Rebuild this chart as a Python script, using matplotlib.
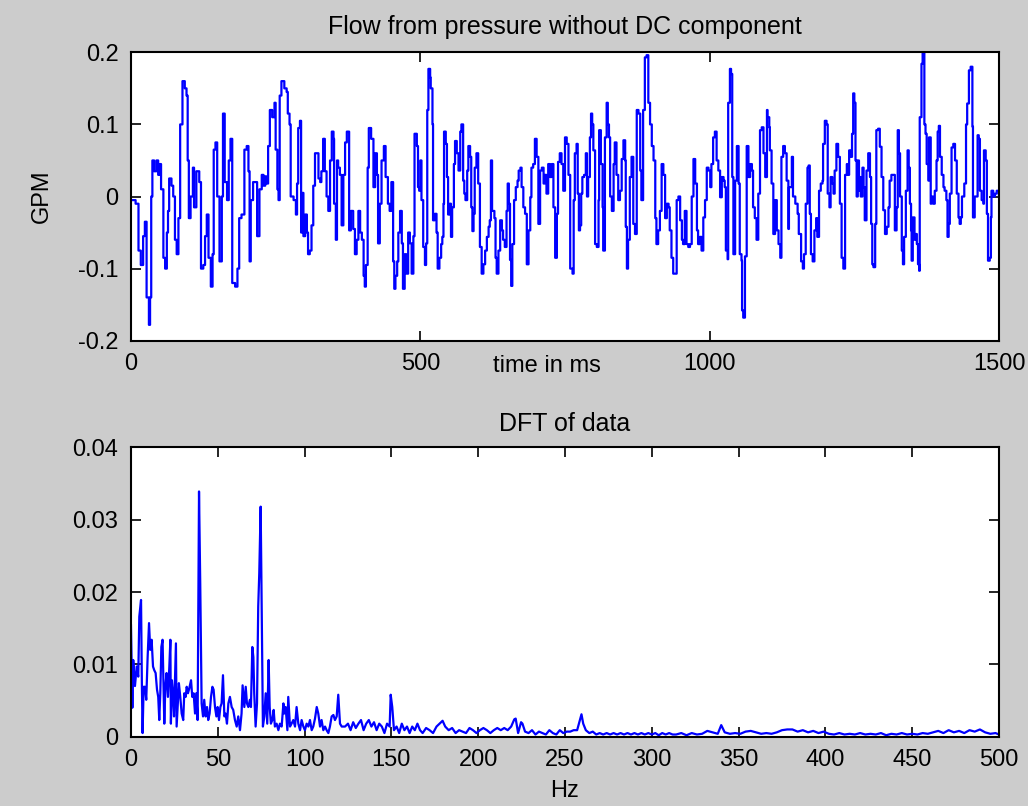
import matplotlib
matplotlib.use("Agg")
import matplotlib.pyplot as plt

# flow signal (ms, GPM)
t_ms = [0, 8, 13, 17, 21, 24, 27, 31, 33, 35,
        37, 40, 44, 47, 50, 52, 56, 59, 62, 64,
        66, 70, 73, 76, 79, 82, 85, 89, 93, 96,
        98, 100, 103, 107, 109, 113, 118, 121, 125, 128,
        131, 134, 138, 141, 143, 146, 149, 153, 157, 159,
        162, 166, 169, 172, 175, 180, 184, 187, 191, 196,
        200, 203, 205, 207, 211, 218, 222, 226, 229, 232,
        234, 237, 240, 244, 248, 250, 253, 255, 257, 260,
        265, 269, 271, 274, 276, 281, 285, 287, 289, 292,
        294, 296, 298, 301, 304, 306, 309, 312, 315, 318,
        321, 324, 327, 329, 332, 335, 338, 341, 344, 347,
        350, 351, 354, 356, 358, 361, 364, 367, 370, 373,
        377, 380, 384, 387, 390, 393, 396, 399, 402, 404,
        406, 409, 411, 415, 419, 422, 425, 427, 430, 433,
        437, 440, 444, 447, 450, 453, 455, 457, 460, 462,
        465, 468, 470, 473, 476, 479, 482, 485, 488, 490,
        494, 496, 498, 500, 502, 505, 508, 510, 512, 514,
        517, 518, 521, 522, 525, 528, 530, 533, 536, 538,
        540, 541, 544, 546, 548, 551, 553, 555, 558, 560,
        563, 566, 569, 571, 574, 576, 578, 581, 583, 586,
        588, 590, 592, 594, 597, 600, 603, 606, 609, 612,
        615, 618, 620, 622, 624, 628, 630, 632, 635, 638,
        641, 643, 646, 649, 651, 653, 655, 657, 659, 662,
        665, 668, 670, 673, 675, 678, 681, 684, 687, 690,
        692, 695, 698, 701, 704, 707, 710, 713, 715, 718,
        721, 724, 727, 730, 733, 736, 738, 741, 744, 747,
        750, 753, 756,
        759, 763, 765, 767, 770, 772, 774, 776, 778, 780,
        783, 786, 788, 790, 793, 795, 797, 799, 802, 805,
        808, 809, 812, 815, 816, 819, 822, 824, 826, 828,
        831, 834, 836, 839, 842, 845, 848, 851, 854, 855,
        857, 859, 862, 865, 868, 871, 874, 877, 880, 882,
        885, 888, 891, 894, 897, 900, 903, 906, 908, 911,
        914, 917, 920, 923, 926, 929, 931, 934, 937, 940,
        943, 946, 949, 952, 954, 957, 960, 963, 966, 969,
        972, 975, 978, 980, 983, 986, 989, 992, 995, 998,
        1001, 1003, 1006, 1009, 1012, 1015, 1018, 1021, 1024, 1026,
        1028, 1031, 1032, 1035, 1037, 1039, 1041, 1044, 1047, 1050,
        1052, 1055, 1056, 1058, 1061, 1064, 1067, 1070, 1073, 1075,
        1078, 1081, 1084, 1087, 1090, 1093, 1096, 1099, 1100, 1103,
        1104, 1107, 1110, 1113, 1116, 1119, 1122, 1124, 1127, 1130,
        1133, 1136,
        1137, 1142, 1144, 1148, 1152, 1154, 1158, 1161, 1163, 1166,
        1169, 1171, 1173, 1175, 1178, 1181, 1184, 1186, 1189, 1192,
        1195, 1196, 1199, 1202, 1204, 1207, 1209, 1212, 1214, 1216,
        1219, 1222, 1225, 1228, 1231, 1234, 1237, 1238, 1241, 1244,
        1246, 1248, 1250, 1252, 1254, 1256, 1258, 1260, 1261, 1264,
        1266, 1268, 1271, 1274, 1277, 1279, 1281, 1283, 1286, 1288,
        1291, 1294, 1297, 1300, 1303, 1306, 1309, 1311, 1314, 1317,
        1320, 1323, 1325, 1327, 1329, 1332, 1334, 1336, 1339, 1342,
        1344, 1346, 1348, 1349, 1351, 1354, 1356, 1358, 1360, 1362,
        1363, 1366, 1368, 1371, 1373, 1375, 1378, 1379, 1382, 1383,
        1386, 1389, 1392, 1394, 1396, 1398, 1401, 1404, 1406, 1409,
        1411, 1413, 1415, 1418, 1421, 1424, 1427, 1430, 1432, 1434,
        1436, 1440, 1443, 1445, 1448, 1451, 1454, 1455, 1458, 1461,
        1463, 1465, 1467, 1470, 1473, 1474, 1477, 1479, 1481, 1484,
        1486, 1487, 1490, 1493, 1496, 1500]

gpm = [-0.005, -0.01, -0.075, -0.095, -0.055, -0.035, -0.14, -0.178, -0.14, 0.0,
       0.05, 0.035, 0.05, 0.03, 0.045, 0.01, -0.085, -0.1, -0.05, -0.02,
       0.025, 0.015, 0.0, -0.06, -0.08, -0.03, 0.1, 0.16, 0.15, 0.14,
       0.05, -0.03, 0.0, 0.04, -0.015, 0.035, 0.02, -0.1, -0.095, -0.055,
       -0.025, -0.085, -0.125, -0.08, 0.065, 0.075, 0.0, -0.09, 0.0, 0.115,
       0.02, -0.005, 0.05, 0.08, -0.12, -0.125, -0.1, -0.03, -0.025, 0.065,
       0.07, 0.035, -0.09, -0.005, 0.02, -0.055, 0.01, 0.03, 0.015, 0.028,
       0.018, 0.07, 0.12, 0.11, 0.13, 0.065, 0.01, -0.005, 0.14, 0.16,
       0.15, 0.145, 0.115, 0.1, 0.0, -0.005, -0.025, 0.018, 0.095, 0.105,
       -0.05, 0.005, -0.055, -0.025, -0.05, -0.08, -0.075, -0.04, 0.015, 0.06,
       0.06, 0.025, 0.02, 0.035, 0.08, 0.035, 0.0, -0.02, 0.05, 0.09,
       0.08, -0.01, -0.06, 0.05, 0.04, 0.03, -0.04, 0.03, 0.075, 0.09,
       -0.047, -0.02, -0.045, -0.08, -0.06, -0.02, -0.05, -0.06, -0.11, -0.125,
       -0.095, 0.04, 0.095, 0.08, 0.013, 0.06, 0.03, -0.065, -0.01, 0.05,
       0.07, 0.027, -0.01, -0.02, 0.02, -0.09, -0.128, -0.11, -0.09, -0.05,
       -0.02, -0.065, -0.128, -0.08, -0.107, -0.05, -0.065, -0.107, -0.055, 0.087,
       0.07, 0.013, 0.008, 0.05, -0.005, -0.07, -0.095, -0.065, 0.12, 0.177,
       0.165, 0.15, 0.1, -0.033, -0.024, -0.05, -0.1, -0.085, -0.066, -0.056,
       -0.01, 0.09, 0.073, 0.027, -0.025, -0.01, -0.056, -0.015, 0.045, 0.077,
       0.06, 0.036, 0.09, 0.1, 0.022, 0.004, -0.005, 0.036, 0.07, 0.055,
       -0.015, -0.048, -0.024, 0.04, 0.06, 0.018, -0.07, -0.107, -0.094, -0.075,
       -0.056, -0.042, -0.033, 0.05, -0.02, -0.03, -0.085, -0.107, -0.075, -0.033,
       -0.047, -0.06, -0.07, -0.02, 0.018, -0.01, -0.088, -0.124, -0.066, -0.005,
       0.013, 0.022, 0.036, 0.04, 0.013, -0.015, -0.024, -0.094, -0.047, -0.001,
       0.04, 0.045, 0.08, 0.055, -0.038, 0.036, 0.04, 0.018, 0.03, 0.004,
       0.045, 0.027, 0.045, -0.015, -0.085, -0.024, 0.048, 0.06, 0.045, 0.008,
       0.082, 0.073, 0.03,
       -0.1, -0.107, -0.005, 0.06, 0.073, 0.004, -0.047, -0.04, 0.004, 0.027,
       0.03, 0.06, 0.0, 0.027, 0.082, 0.115, 0.1, 0.064, -0.066, -0.07,
       -0.005, 0.092, 0.045, -0.015, -0.075, 0.082, 0.13, 0.1, 0.082, 0.0,
       -0.02, 0.045, 0.075, 0.03, -0.005, 0.008, 0.052, 0.078, 0.05, -0.042,
       -0.1, -0.06, 0.027, 0.055, -0.038, -0.052, 0.12, 0.115, 0.036, -0.005,
       0.12, 0.193, 0.196, 0.13, 0.1, 0.07, 0.05, -0.03, -0.066, -0.047,
       -0.02, 0.045, 0.03, -0.03, -0.01, -0.015, -0.047, -0.085, -0.107, -0.107,
       -0.005, 0.0, -0.033, -0.06, -0.066, -0.02, -0.066, -0.07, -0.066, 0.0,
       0.052, 0.018, -0.047, -0.066, -0.056, -0.075, -0.029, -0.005, 0.04, 0.036,
       0.013, 0.045, 0.082, 0.09, 0.05, 0.036, -0.001, 0.027, 0.022, 0.013,
       -0.075, -0.087, 0.13, 0.177, 0.17, 0.027, -0.08, 0.022, 0.07, 0.018,
       -0.08, -0.089, -0.158, -0.168, -0.083, 0.07, 0.027, 0.045, 0.036, -0.015,
       -0.03, -0.06, 0.004, 0.092, 0.096, 0.06, 0.027, 0.12, 0.11, 0.096,
       0.064, 0.018, -0.052, -0.005, -0.047, -0.066, -0.085, 0.055, 0.07, 0.06,
       0.022, -0.045,
       0.013, 0.055, 0.0, -0.01, -0.024, -0.052, -0.09, -0.1, -0.08, -0.01,
       0.04, 0.043, -0.024, -0.08, -0.09, -0.047, -0.03, -0.056, 0.008, 0.018,
       0.022, 0.073, 0.105, 0.1, 0.004, -0.015, 0.027, 0.018, 0.004, 0.036,
       0.073, 0.055, -0.01, -0.085, -0.1, 0.03, 0.045, 0.03, 0.064, 0.055,
       0.087, 0.143, 0.13, 0.05, 0.0, 0.05, 0.008, 0.027, 0.0, 0.04,
       0.013, -0.033, 0.036, 0.06, 0.027, -0.038, -0.094, -0.098, -0.038, 0.092,
       0.094, 0.069, 0.027, -0.019, -0.052, -0.042, -0.015, 0.022, 0.03, 0.03,
       -0.047, -0.015, 0.092, 0.06, 0.0, -0.075, -0.094, -0.056, 0.008, 0.064,
       0.04, -0.01, -0.047, -0.089, -0.029, -0.06, -0.052, -0.066, -0.094, -0.103,
       0.11, 0.184, 0.2, 0.1, 0.087, 0.045, 0.022, 0.082, -0.01, 0.0,
       -0.01, 0.008, 0.05, 0.09, 0.098, 0.055, 0.03, 0.013, 0.008, -0.005,
       -0.056, -0.038, 0.004, 0.068, 0.073, 0.05, 0.004, -0.029, -0.038, -0.029,
       0.0, 0.018, 0.1, 0.129, 0.175, 0.18, 0.097, -0.029, 0.0, 0.0,
       0.085, 0.08, 0.008, -0.005, -0.01, 0.064, 0.05, -0.024, -0.089, -0.085,
       -0.029, 0.008, 0.0, 0.004, 0.008, 0.0]

# DFT magnitude (Hz, amplitude)
hz = [0, 0.8, 1.3, 2.3, 3.3, 4.2, 4.8, 5.8, 6.3, 6.7,
      7.3, 8.1, 8.8, 9.6, 10.4, 11.1, 11.9, 12.7, 13.4, 14.2,
      15.0, 15.7, 16.3, 16.9, 17.5, 18.2, 18.8, 19.2, 19.8, 20.5,
      21.3, 22.1, 22.7, 23.0, 23.6, 24.2, 24.8, 25.3, 25.9, 26.3,
      26.9, 27.6, 28.4, 29.2, 30.1, 30.7, 31.5, 32.1, 32.8, 33.4,
      34.6, 35.3, 36.1, 36.9, 37.6, 38.4, 39.2, 39.9, 40.7, 41.5,
      42.2, 43.0, 43.8, 44.5, 45.3, 46.1, 46.9, 47.6, 48.4, 49.2,
      49.9, 50.7, 51.5, 52.2, 53.0, 53.8, 54.5, 55.3, 56.1, 57.0,
      58.0, 58.9, 59.9, 60.9, 61.8, 62.8, 63.7, 64.3, 65.3, 66.1,
      66.8, 67.6, 68.5, 69.1, 69.9, 70.5, 71.0, 71.8, 72.6, 73.3,
      73.9, 74.7, 75.3, 76.0, 76.8, 77.6, 78.5, 79.3, 79.9, 80.6,
      81.4, 82.2, 82.9, 83.9, 84.9, 85.8, 86.8, 87.8, 88.3, 89.1,
      90.1, 90.6, 91.6, 92.5, 93.5, 94.5, 95.4, 96.4, 97.4, 98.3,
      99.3, 100.2, 101.2, 102.2, 103.1, 104.1, 105.0, 106.0, 107.0, 107.9,
      108.9, 109.8, 110.8, 111.8, 112.7, 113.7, 114.6, 115.6, 116.6, 117.5,
      118.5, 119.4, 120.4, 121.4, 123.3,
      125.0, 126.5, 128, 129.5, 131, 132.5, 134, 135.5, 137, 138.5,
      140, 141.5, 143, 144.5, 146, 147.5, 149, 149.6, 150.5, 151.5,
      153, 154.5, 156, 157.5, 159, 160.5, 162, 163.5, 165, 166.5,
      168, 170, 172, 174, 176, 179.5, 181, 183, 185, 187,
      189, 191, 193, 195, 197, 199, 201, 203, 205, 207,
      209, 211, 213, 215, 217, 219, 220.8, 221.6, 223, 224.7,
      225.5, 227, 229, 231, 233, 235, 237, 239, 241, 243,
      245, 247, 249, 251, 253, 255, 257, 259.5, 260.5, 262,
      264, 266, 268, 270, 272, 274, 276, 278, 280, 282,
      284, 286, 288, 290, 292, 294, 296, 298, 300, 302,
      304, 306, 308, 310, 312,
      314, 317, 320, 323, 326, 329, 332, 335, 338, 340,
      342, 345, 348, 351, 354, 357, 360, 363, 366, 369,
      372, 375, 378, 381, 384, 387, 390, 393, 396, 399,
      402, 405, 408, 411, 414, 417, 420, 423, 426, 429,
      432, 435, 438, 441, 444, 447, 450, 453, 456, 459,
      462, 465, 468, 471, 474, 477, 480, 483, 486, 489,
      492, 495, 498, 500]

amp = [0.0154, 0.004, 0.0106, 0.007, 0.0097, 0.0083, 0.0166, 0.0189, 0.0069, 0.0005,
       0.0069, 0.0069, 0.0051, 0.011, 0.0157, 0.012, 0.0134, 0.0097, 0.0092, 0.0088,
       0.0065, 0.0055, 0.0023, 0.006, 0.0124, 0.0134, 0.0065, 0.0018, 0.0069, 0.0088,
       0.0055, 0.0097, 0.0134, 0.0018, 0.0078, 0.006, 0.0028, 0.0074, 0.0129, 0.0014,
       0.0041, 0.0074, 0.0055, 0.0032, 0.0023, 0.006, 0.0055, 0.0069, 0.006, 0.0065,
       0.0078, 0.0055, 0.006, 0.0032, 0.006, 0.0023, 0.0339, 0.0212, 0.0046, 0.0028,
       0.0051, 0.0028, 0.0041, 0.0023, 0.0032, 0.0055, 0.0069, 0.0065, 0.0041, 0.0028,
       0.0041, 0.0023, 0.0041, 0.0046, 0.0085, 0.0028, 0.0032, 0.0018, 0.0046, 0.0055,
       0.0041, 0.0037, 0.0023, 0.0014, 0.0028, 0.0009, 0.0032, 0.0071, 0.0041, 0.0069,
       0.0046, 0.0041, 0.0051, 0.0041, 0.0124, 0.011, 0.006, 0.0014, 0.0046, 0.018,
       0.0226, 0.0318, 0.018, 0.0014, 0.0028, 0.006, 0.0018, 0.0106, 0.0041, 0.0018,
       0.0023, 0.0037, 0.0014, 0.0018, 0.0009, 0.0018, 0.0014, 0.0046, 0.0032, 0.0041,
       0.0009, 0.0055, 0.0014, 0.0018, 0.0023, 0.0014, 0.0041, 0.0018, 0.0009, 0.0023,
       0.0014, 0.0009, 0.0018, 0.0014, 0.0023, 0.0009, 0.0014, 0.0025, 0.0041, 0.0032,
       0.0014, 0.0023, 0.0009, 0.0014, 0.0009, 0.0005, 0.0014, 0.0028, 0.003, 0.0023,
       0.0028, 0.0058, 0.0018, 0.0014, 0.0014,
       0.0018, 0.0009, 0.002, 0.0012, 0.0018, 0.0023, 0.0009, 0.0018, 0.0023, 0.0014,
       0.002, 0.0009, 0.0018, 0.0014, 0.0005, 0.0018, 0.0014, 0.0058, 0.0041, 0.0009,
       0.0014, 0.0005, 0.0018, 0.0009, 0.0014, 0.0005, 0.0014, 0.0009, 0.0018, 0.0009,
       0.0005, 0.0012, 0.0009, 0.0005, 0.0014, 0.0022, 0.0014, 0.0009, 0.0012, 0.0005,
       0.0009, 0.0007, 0.0005, 0.0012, 0.0009, 0.0005, 0.0009, 0.0012, 0.0009, 0.0005,
       0.0009, 0.0012, 0.0009, 0.0012, 0.0009, 0.0014, 0.0024, 0.0025, 0.0005, 0.002,
       0.0018, 0.0007, 0.0005, 0.0009, 0.0003, 0.0007, 0.0005, 0.0003, 0.0009, 0.0005,
       0.0003, 0.0009, 0.0005, 0.0007, 0.0007, 0.0009, 0.0009, 0.0031, 0.0018, 0.0009,
       0.0005, 0.0007, 0.0003, 0.0005, 0.0003, 0.0005, 0.0003, 0.0005, 0.0003, 0.0005,
       0.0003, 0.0005, 0.0003, 0.0005, 0.0003, 0.0005, 0.0003, 0.0005, 0.0003, 0.0005,
       0.0002, 0.0005, 0.0003, 0.0005, 0.0003,
       0.0003, 0.0005, 0.0002, 0.0005, 0.0003, 0.0004, 0.0008, 0.0006, 0.0004, 0.0016,
       0.0006, 0.0004, 0.0005, 0.0004, 0.0007, 0.0008, 0.0006, 0.0004, 0.0005, 0.0004,
       0.0006, 0.0009, 0.001, 0.001, 0.0007, 0.0009, 0.0006, 0.0008, 0.0005, 0.0007,
       0.0004, 0.0003, 0.0005, 0.0003, 0.0004, 0.0003, 0.0005, 0.0003, 0.0004, 0.0003,
       0.0005, 0.0002, 0.0004, 0.0003, 0.0005, 0.0003, 0.0004, 0.0003, 0.0005, 0.0004,
       0.0006, 0.0008, 0.0005, 0.0009, 0.0006, 0.0008, 0.0005, 0.0009, 0.0007, 0.001,
       0.0006, 0.0004, 0.0005, 0.0003]

assert len(t_ms) == len(gpm), (len(t_ms), len(gpm))
assert len(hz) == len(amp), (len(hz), len(amp))

plt.rcParams['font.family'] = ['Liberation Sans', 'DejaVu Sans']
plt.rcParams['axes.unicode_minus'] = False

fig = plt.figure(figsize=(10.28, 8.06), dpi=100, facecolor='#cccccc')

def style(ax):
    ax.set_facecolor('white')
    for s in ax.spines.values():
        s.set_linewidth(1.5)
    ax.tick_params(direction='in', length=7, width=1.2, top=True, right=True,
                   labelsize=17, pad=9)

# top: flow
ax1 = fig.add_axes([0.1274, 0.5773, 0.8444, 0.3578])
ax1.plot(t_ms, gpm, color='#0000ff', lw=1.6, drawstyle='steps-post')
ax1.set_xlim(0, 1500)
ax1.set_ylim(-0.2, 0.2)
ax1.set_xticks([0, 500, 1000, 1500])
ax1.set_yticks([-0.2, -0.1, 0, 0.1, 0.2])
ax1.set_yticklabels(['-0.2', '-0.1', '0', '0.1', '0.2'])
style(ax1)
ax1.set_title('Flow from pressure without DC component', fontsize=18, pad=13)
ax1.set_ylabel('GPM', fontsize=17)
ax1.yaxis.set_label_coords(-0.09, 0.5)
ax1.set_xlabel('time in ms', fontsize=17)
ax1.xaxis.set_label_coords(0.479, -0.05)

# bottom: spectrum
ax2 = fig.add_axes([0.1274, 0.0860, 0.8444, 0.3590])
ax2.plot(hz, amp, color='#0000ff', lw=1.6)
ax2.set_xlim(0, 500)
ax2.set_ylim(0, 0.04)
ax2.set_xticks(range(0, 501, 50))
ax2.set_yticks([0, 0.01, 0.02, 0.03, 0.04])
ax2.set_yticklabels(['0', '0.01', '0.02', '0.03', '0.04'])
style(ax2)
ax2.set_title('DFT of data', fontsize=18, pad=12)
ax2.set_xlabel('Hz', fontsize=17)
ax2.xaxis.set_label_coords(0.5, -0.15)

fig.savefig('out.png', dpi=100, facecolor=fig.get_facecolor())
